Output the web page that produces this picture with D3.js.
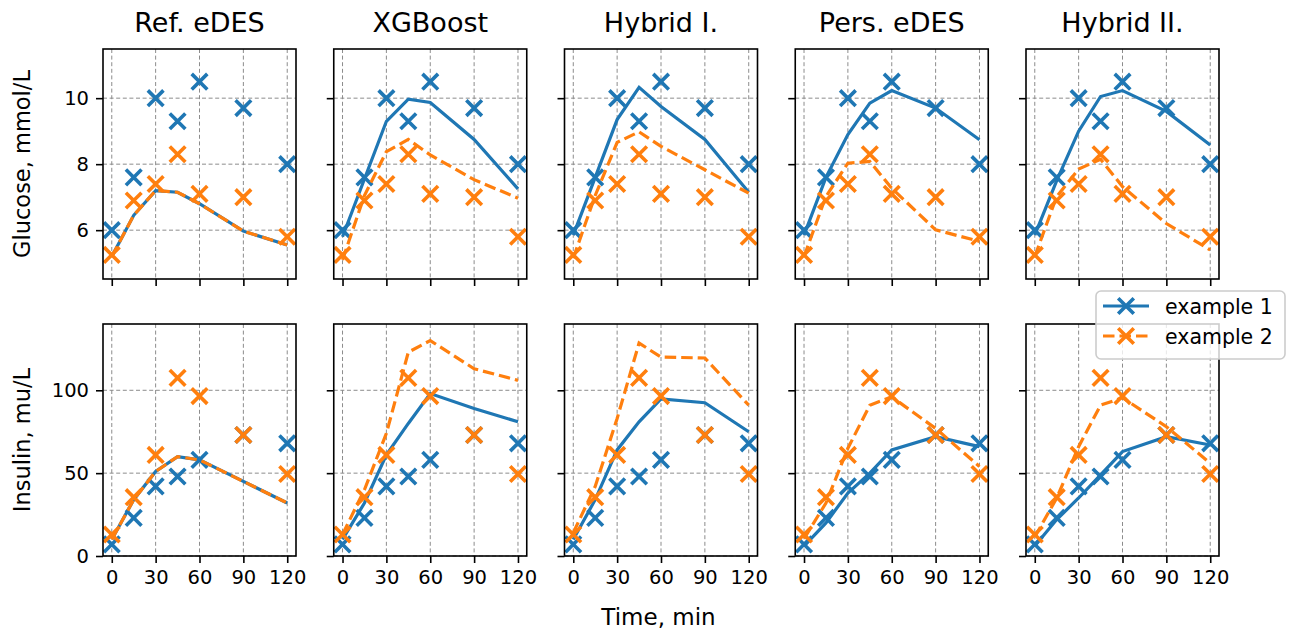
<!DOCTYPE html>
<html><head><meta charset="utf-8">
<script src="https://cdn.jsdelivr.net/npm/d3@7"></script>
<style>body{margin:0;background:#fff}svg{display:block}text{font-family:"DejaVu Sans",sans-serif;fill:#000}</style>
</head><body><svg id="c" width="1293" height="632"></svg>
<script>
const models = ["Ref. eDES", "XGBoost", "Hybrid I.", "Pers. eDES", "Hybrid II."];
const times = [0, 15, 30, 45, 60, 90, 120];
const xTicks = [0, 30, 60, 90, 120];
const glucoseTicks = [6, 8, 10];
const insulinTicks = [0, 50, 100];
const seriesNames = ["example 1", "example 2"];

// observed data (markers)
const obsGlucose1 = [6.0, 7.6, 10.0, 9.3, 10.5, 9.7, 8.0];
const obsGlucose2 = [5.25, 6.9, 7.4, 8.3, 7.1, 7.0, 5.8];
const obsInsulin1 = [7, 23, 42, 48, 58, 73, 68];
const obsInsulin2 = [13, 35.5, 61, 107.5, 96.5, 73, 49.5];

// model predictions (lines), one row per model
const predGlucose1 = [
  [5.2, 6.45, 7.2, 7.15, 6.8, 5.97, 5.55],
  [5.8, 7.55, 9.3, 9.97, 9.87, 8.75, 7.25],
  [5.85, 7.6, 9.35, 10.33, 9.75, 8.75, 7.15],
  [5.85, 7.6, 8.9, 9.85, 10.23, 9.7, 8.74],
  [5.85, 7.5, 9.0, 10.05, 10.23, 9.6, 8.58]
];
const predGlucose2 = [
  [5.2, 6.45, 7.2, 7.15, 6.8, 5.97, 5.55],
  [5.1, 7.05, 8.38, 8.75, 8.28, 7.53, 6.97],
  [5.15, 7.05, 8.66, 8.98, 8.54, 7.83, 7.12],
  [5.2, 7.02, 8.03, 8.08, 7.27, 6.01, 5.66],
  [5.2, 7.02, 7.85, 8.15, 7.32, 6.2, 5.4]
];
const predInsulin1 = [
  [10, 34, 51, 60, 58, 45, 32],
  [10, 32, 61, 80, 98, 89, 81],
  [10, 34, 64, 81, 94.8, 92.5, 75],
  [6, 20, 38, 50, 64, 72, 66],
  [6, 22, 35, 49, 63, 72, 67]
];
const predInsulin2 = [
  [10, 34, 51, 60, 58, 45, 32],
  [13, 40, 74, 123, 130, 113, 106],
  [14, 42, 83, 128.5, 120, 119.5, 91],
  [10.5, 32, 65, 91, 96, 77, 54],
  [11.5, 35, 66, 91, 95.5, 78, 56]
];

const colors = ["#1f77b4", "#ff7f0e"];
const svg = d3.select("#c");

const panelW = 193, stride = 230.75, left0 = 103;
const rows = [
  {top: 49, bottom: 279, domain: [4.52, 11.49], ticks: glucoseTicks, label: "Glucose, mmol/L",
   obs: [obsGlucose1, obsGlucose2], pred: [predGlucose1, predGlucose2]},
  {top: 324, bottom: 556, domain: [0, 140], ticks: insulinTicks, label: "Insulin, mu/L",
   obs: [obsInsulin1, obsInsulin2], pred: [predInsulin1, predInsulin2]}
];

function xMarker(g, cx, cy, color) {
  const h = 7.8;
  g.append("path")
    .attr("d", `M${cx-h},${cy-h}L${cx+h},${cy+h}M${cx-h},${cy+h}L${cx+h},${cy-h}`)
    .attr("stroke", color).attr("stroke-width", 3.6).attr("fill", "none");
}

rows.forEach((row, ri) => {
  const y = d3.scaleLinear().domain(row.domain).range([row.bottom, row.top]);
  models.forEach((m, mi) => {
    const x0 = left0 + mi * stride;
    const x = d3.scaleLinear().domain([-6, 126]).range([x0, x0 + panelW]);
    const g = svg.append("g");
    const clipId = `clip-${ri}-${mi}`;
    svg.append("clipPath").attr("id", clipId).append("rect")
      .attr("x", x0).attr("y", row.top).attr("width", panelW).attr("height", row.bottom - row.top);

    // grid
    g.selectAll(null).data(xTicks).enter().append("line")
      .attr("x1", d => x(d)).attr("x2", d => x(d)).attr("y1", row.top).attr("y2", row.bottom)
      .attr("stroke", "#8c8c8c").attr("stroke-width", 1).attr("stroke-dasharray", "4,2.6");
    g.selectAll(null).data(row.ticks).enter().append("line")
      .attr("y1", d => y(d)).attr("y2", d => y(d)).attr("x1", x0).attr("x2", x0 + panelW)
      .attr("stroke", "#8c8c8c").attr("stroke-width", 1).attr("stroke-dasharray", "4,2.6");

    // axes ticks
    const xa = d3.axisBottom(x).tickValues(xTicks).tickSize(7).tickPadding(7)
      .tickFormat(ri === 1 ? d3.format("d") : () => "");
    const xg = g.append("g").attr("transform", `translate(0,${row.bottom})`).call(xa);
    const ya = d3.axisLeft(y).tickValues(row.ticks).tickSize(7).tickPadding(7)
      .tickFormat(mi === 0 ? d3.format("d") : () => "");
    const yg = g.append("g").attr("transform", `translate(${x0},0)`).call(ya);
    [xg, yg].forEach(a => {
      a.select(".domain").remove();
      a.selectAll(".tick line").attr("stroke", "#000").attr("stroke-width", 1.6);
      a.selectAll(".tick text").attr("font-size", 19.5).attr("font-family", "DejaVu Sans").attr("fill", "#000");
    });

    // lines and markers
    const line = d3.line().x((d, i) => x(times[i])).y(d => y(d));
    [0, 1].forEach(si => {
      g.append("path").datum(row.pred[si][mi])
        .attr("d", line).attr("fill", "none").attr("stroke", colors[si]).attr("stroke-width", 3.2)
        .attr("stroke-dasharray", si === 1 ? "11.5,5" : null)
        .attr("clip-path", `url(#${clipId})`);
      row.obs[si].forEach((v, i) => xMarker(g, x(times[i]), y(v), colors[si]));
    });

    // frame
    g.append("rect").attr("x", x0).attr("y", row.top).attr("width", panelW).attr("height", row.bottom - row.top)
      .attr("fill", "none").attr("stroke", "#000").attr("stroke-width", 1.6);

    if (ri === 0) {
      svg.append("text").attr("x", x0 + panelW / 2).attr("y", 32.3).attr("text-anchor", "middle")
        .attr("font-size", 27).text(m);
    }
  });
  svg.append("text").attr("transform", `translate(30,${(row.top + row.bottom) / 2}) rotate(-90)`)
    .attr("text-anchor", "middle").attr("font-size", 22.5).text(row.label);
});

svg.append("text").attr("x", 658.5).attr("y", 625).attr("text-anchor", "middle")
  .attr("font-size", 23).text("Time, min");

// legend
const lg = svg.append("g");
lg.append("rect").attr("x", 1096).attr("y", 291).attr("width", 189).attr("height", 68).attr("rx", 5)
  .attr("fill", "#fff").attr("fill-opacity", 0.8).attr("stroke", "#cccccc").attr("stroke-width", 1.6);
seriesNames.forEach((s, i) => {
  const cy = 306 + i * 30;
  lg.append("line").attr("x1", 1103).attr("x2", 1149).attr("y1", cy).attr("y2", cy)
    .attr("stroke", colors[i]).attr("stroke-width", 3.2).attr("stroke-dasharray", i === 1 ? "11.5,5" : null);
  xMarker(lg, 1126, cy, colors[i]);
  lg.append("text").attr("x", 1165).attr("y", cy + 7.5).attr("font-size", 20.5).text(s);
});
</script></body></html>
